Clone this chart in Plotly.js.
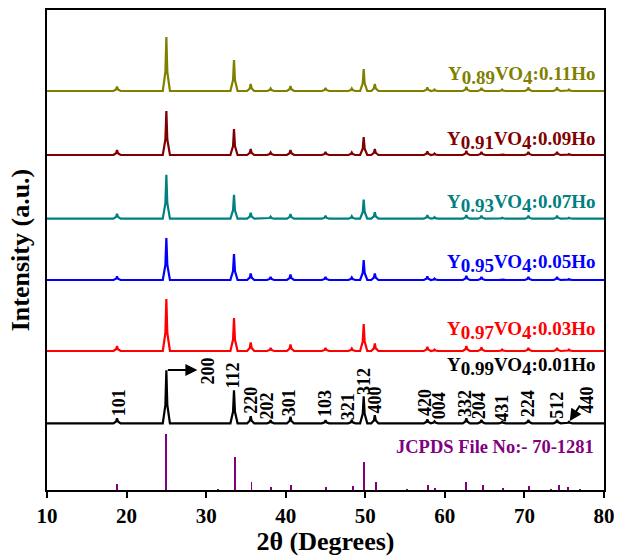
<!DOCTYPE html>
<html>
<head>
<meta charset="utf-8">
<script src="https://cdn.plot.ly/plotly-3.0.1.min.js"></script>
<style>html,body{margin:0;padding:0;background:#fff;}#chart{width:617px;height:556px;}</style>
</head>
<body>
<div id="chart"></div>
<script>
// 2θ grid shared by all measured patterns (degrees)
var twoTheta = [10,
 18.35,18.68,18.8,18.92,19.25,
 24.55,24.88,25.0,25.12,25.45,
 33.05,33.38,33.5,33.62,33.95,
 35.15,35.48,35.6,35.72,36.05,
 37.65,37.98,38.1,38.22,38.55,
 40.15,40.48,40.6,40.72,41.05,
 44.55,44.88,45.0,45.12,45.45,
 47.85,48.18,48.3,48.42,48.75,
 49.35,49.68,49.8,49.92,50.25,
 50.75,51.08,51.2,51.32,51.65,
 57.35,57.68,57.8,57.92,58.25,
 58.25,58.58,58.7,58.82,59.15,
 62.25,62.58,62.7,62.82,63.15,
 64.15,64.48,64.6,64.72,65.05,
 66.75,67.08,67.2,67.32,67.65,
 70.05,70.38,70.5,70.62,70.95,
 73.65,73.98,74.1,74.22,74.55,
 75.15,75.48,75.6,75.72,76.05,
 80];

// intensities (a.u., above each pattern's own baseline)
var int001 = [0,
 0,1.8,5,1.8,0,  0,18.5,53,18.5,0,  0,11.5,33,11.5,0,  0,2.5,7,2.5,0,  0,1,3,1,0,  0,2.3,6.5,2.3,0,
 0,1,3,1,0,  0,1,3,1,0,  0,9.5,27,9.5,0,  0,2.8,8,2.8,0,  0,1.4,4,1.4,0,  0,0.7,2,0.7,0,
 0,1.8,5,1.8,0,  0,1.2,3.5,1.2,0,  0,0.5,1.5,0.5,0,  0,1.2,3.5,1.2,0,  0,1.2,3.5,1.2,0,  0,0.5,1.5,0.5,0,
 0];
var int003 = [0,
 0,1.8,5,1.8,0,  0,18,52,18,0,  0,11.5,33,11.5,0,  0,3,8.5,3,0,  0,1,3,1,0,  0,2.3,6.5,2.3,0,
 0,1,3,1,0,  0,0.9,2.5,0.9,0,  0,9.5,27,9.5,0,  0,2.6,7.5,2.6,0,  0,1.4,4,1.4,0,  0,0.5,1.5,0.5,0,
 0,1.8,5,1.8,0,  0,1.2,3.5,1.2,0,  0,0.5,1.5,0.5,0,  0,1,3,1,0,  0,1,3,1,0,  0,0.5,1.5,0.5,0,
 0];
var int005 = [0,
 0,1.2,3.5,1.2,0,  0,15,42,15,0,  0,9,26,9,0,  0,2.3,6.5,2.3,0,  0,1,3,1,0,  0,1.9,5.5,1.9,0,
 0,1,3,1,0,  0,0.9,2.5,0.9,0,  0,7,20,7,0,  0,2.3,6.5,2.3,0,  0,1.2,3.5,1.2,0,  0,0.5,1.5,0.5,0,
 0,1.4,4,1.4,0,  0,1,3,1,0,  0,0.4,1,0.4,0,  0,1,3,1,0,  0,1,3,1,0,  0,0.4,1,0.4,0,
 0];
var int007 = [0,
 0,1.8,5,1.8,0,  0,15.5,44,15.5,0,  0,8.5,24,8.5,0,  0,2.1,6,2.1,0,  0,0.7,2,0.7,0,  0,1.6,4.5,1.6,0,
 0,1,3,1,0,  0,0.9,2.5,0.9,0,  0,6.7,19,6.7,0,  0,2.3,6.5,2.3,0,  0,1.2,3.5,1.2,0,  0,0.5,1.5,0.5,0,
 0,1.2,3.5,1.2,0,  0,1,3,1,0,  0,0.4,1,0.4,0,  0,1,3,1,0,  0,1,3,1,0,  0,0.4,1,0.4,0,
 0];
var int009 = [0,
 0,1.8,5,1.8,0,  0,15.5,44,15.5,0,  0,9,26,9,0,  0,2.1,6,2.1,0,  0,0.9,2.5,0.9,0,  0,1.8,5,1.8,0,
 0,1,3,1,0,  0,0.9,2.5,0.9,0,  0,6.3,18,6.3,0,  0,2.1,6,2.1,0,  0,1.2,3.5,1.2,0,  0,0.5,1.5,0.5,0,
 0,1.4,4,1.4,0,  0,1,3,1,0,  0,0.4,1,0.4,0,  0,1,3,1,0,  0,1,3,1,0,  0,0.4,1,0.4,0,
 0];
var int011 = [0,
 0,1.6,4.5,1.6,0,  0,19,54,19,0,  0,11,31,11,0,  0,2.5,7,2.5,0,  0,0.9,2.5,0.9,0,  0,1.8,5,1.8,0,
 0,1,3,1,0,  0,0.9,2.5,0.9,0,  0,7.7,22,7.7,0,  0,2.5,7,2.5,0,  0,1.2,3.5,1.2,0,  0,0.5,1.5,0.5,0,
 0,1.4,4,1.4,0,  0,1,3,1,0,  0,0.5,1.5,0.5,0,  0,1.2,3.5,1.2,0,  0,1.2,3.5,1.2,0,  0,0.5,1.5,0.5,0,
 0];

// stacking offsets of the patterns (a.u.)
var offsets = [66.7, 139, 210, 271.3, 335, 399];
var seriesNames = ['Y<sub>0.99</sub>VO<sub>4</sub>:0.01Ho','Y<sub>0.97</sub>VO<sub>4</sub>:0.03Ho',
  'Y<sub>0.95</sub>VO<sub>4</sub>:0.05Ho','Y<sub>0.93</sub>VO<sub>4</sub>:0.07Ho',
  'Y<sub>0.91</sub>VO<sub>4</sub>:0.09Ho','Y<sub>0.89</sub>VO<sub>4</sub>:0.11Ho'];
var seriesInt = [int001, int003, int005, int007, int009, int011];
var colors = ['#000000','#ff0000','#0000ff','#008080','#800000','#808000'];

// JCPDS 70-1281 reference lines
var refPos = [18.8, 25.0, 31.5, 33.6, 35.7, 38.2, 40.7, 45.1, 48.4, 49.8, 51.3, 55.2, 57.9, 58.7, 62.7, 64.8, 67.3, 70.6, 73.3, 74.3, 75.5, 77.0];
var refInt = [6, 56, 1, 33, 8.5, 3.5, 5.5, 3.5, 4, 28, 8, 1, 5.5, 2.5, 8.5, 5, 2, 4.5, 1.5, 5, 3, 1];

// Miller indices
var hkl = ['101','200','112','220','202','301','103','321','312','400','420','004','332','204','431','224','512','440'];

var font = 'Liberation Serif, Times New Roman, serif';
var traces = [];
traces.push({type:'bar', x:refPos, y:refInt, width:0.25, marker:{color:'#800080', line:{width:0}}, hoverinfo:'skip'});
for (var i = 0; i < seriesInt.length; i++) {
  var off = offsets[i];
  traces.push({type:'scatter', mode:'lines', x:twoTheta, y:seriesInt[i].map(function(v){return v+off;}),
    line:{color:colors[i], width:2.2}, name:seriesNames[i], hoverinfo:'skip'});
}

var ann = [];
// sample labels
var labY = [124, 160, 227, 287, 350, 414.5];
var labSize = 19;
for (var i = 0; i < seriesNames.length; i++) {
  var t = seriesNames[i].replace(/<sub>([^<]*)<\/sub>/g, '<sub><span style="font-size:'+labSize+'px">$1</span></sub>');
  ann.push({x:79.1, y:labY[i], xref:'x', yref:'y', xanchor:'right', yanchor:'middle', showarrow:false,
    text:t, font:{family:font, size:labSize, color:colors[i], weight:'bold'}});
}
ann.push({x:78.95, y:43, xref:'x', yref:'y', xanchor:'right', yanchor:'middle', showarrow:false,
  text:'JCPDS File No:- 70-1281', font:{family:font, size:18.5, color:'#800080', weight:'bold'}});
// hkl label positions
var hx = [19.09,30.17,33.34,35.6,37.6,40.45,44.94,47.87,49.75,51.22,57.5,59.3,62.53,64.33,67.14,70.49,74.06,77.74];
var hy = [87,119,114.3,90,84,87,86,83,108.3,90.5,88,84,87,84,82,86,85,89.5];
for (var k = 0; k < hkl.length; k++) {
  ann.push({x:hx[k], y:hy[k], xref:'x', yref:'y', xanchor:'center', yanchor:'middle', showarrow:false,
    textangle:-90, text:hkl[k], font:{family:font, size:18, color:'#000', weight:'bold'}});
}
// arrows
ann.push({x:28.9, y:120, ax:25.0, ay:120, axref:'x', ayref:'y', xref:'x', yref:'y', text:'', showarrow:true,
  arrowhead:2, arrowsize:1.2, arrowwidth:2, arrowcolor:'#000'});
ann.push({x:75.7, y:69, ax:77.1, ay:86, axref:'x', ayref:'y', xref:'x', yref:'y', text:'', showarrow:true,
  arrowhead:2, arrowsize:1.2, arrowwidth:2, arrowcolor:'#000'});

var layout = {
  width:617, height:556,
  margin:{l:47, r:13, t:10, b:66},
  paper_bgcolor:'#fff', plot_bgcolor:'#fff',
  showlegend:false,
  bargap:0,
  xaxis:{range:[10,80], tickmode:'array', tickvals:[10,20,30,40,50,60,70,80], ticks:'outside', ticklen:6, tickwidth:2,
    tickcolor:'#000', showline:true, linewidth:2, linecolor:'#000', mirror:true, showgrid:false, zeroline:false,
    tickfont:{family:font, size:21, color:'#000', weight:'bold'},
    title:{text:'2θ (Degrees)', font:{family:font, size:26, color:'#000', weight:'bold'}, standoff:4}},
  yaxis:{range:[0,480], showticklabels:false, ticks:'', showline:true, linewidth:2, linecolor:'#000', mirror:true,
    showgrid:false, zeroline:false,
    title:{text:'Intensity (a.u.)', font:{family:font, size:26, color:'#000', weight:'bold'}, standoff:8}},
  annotations:ann
};
Plotly.newPlot('chart', traces, layout, {displayModeBar:false, staticPlot:true});
</script>
</body>
</html>
